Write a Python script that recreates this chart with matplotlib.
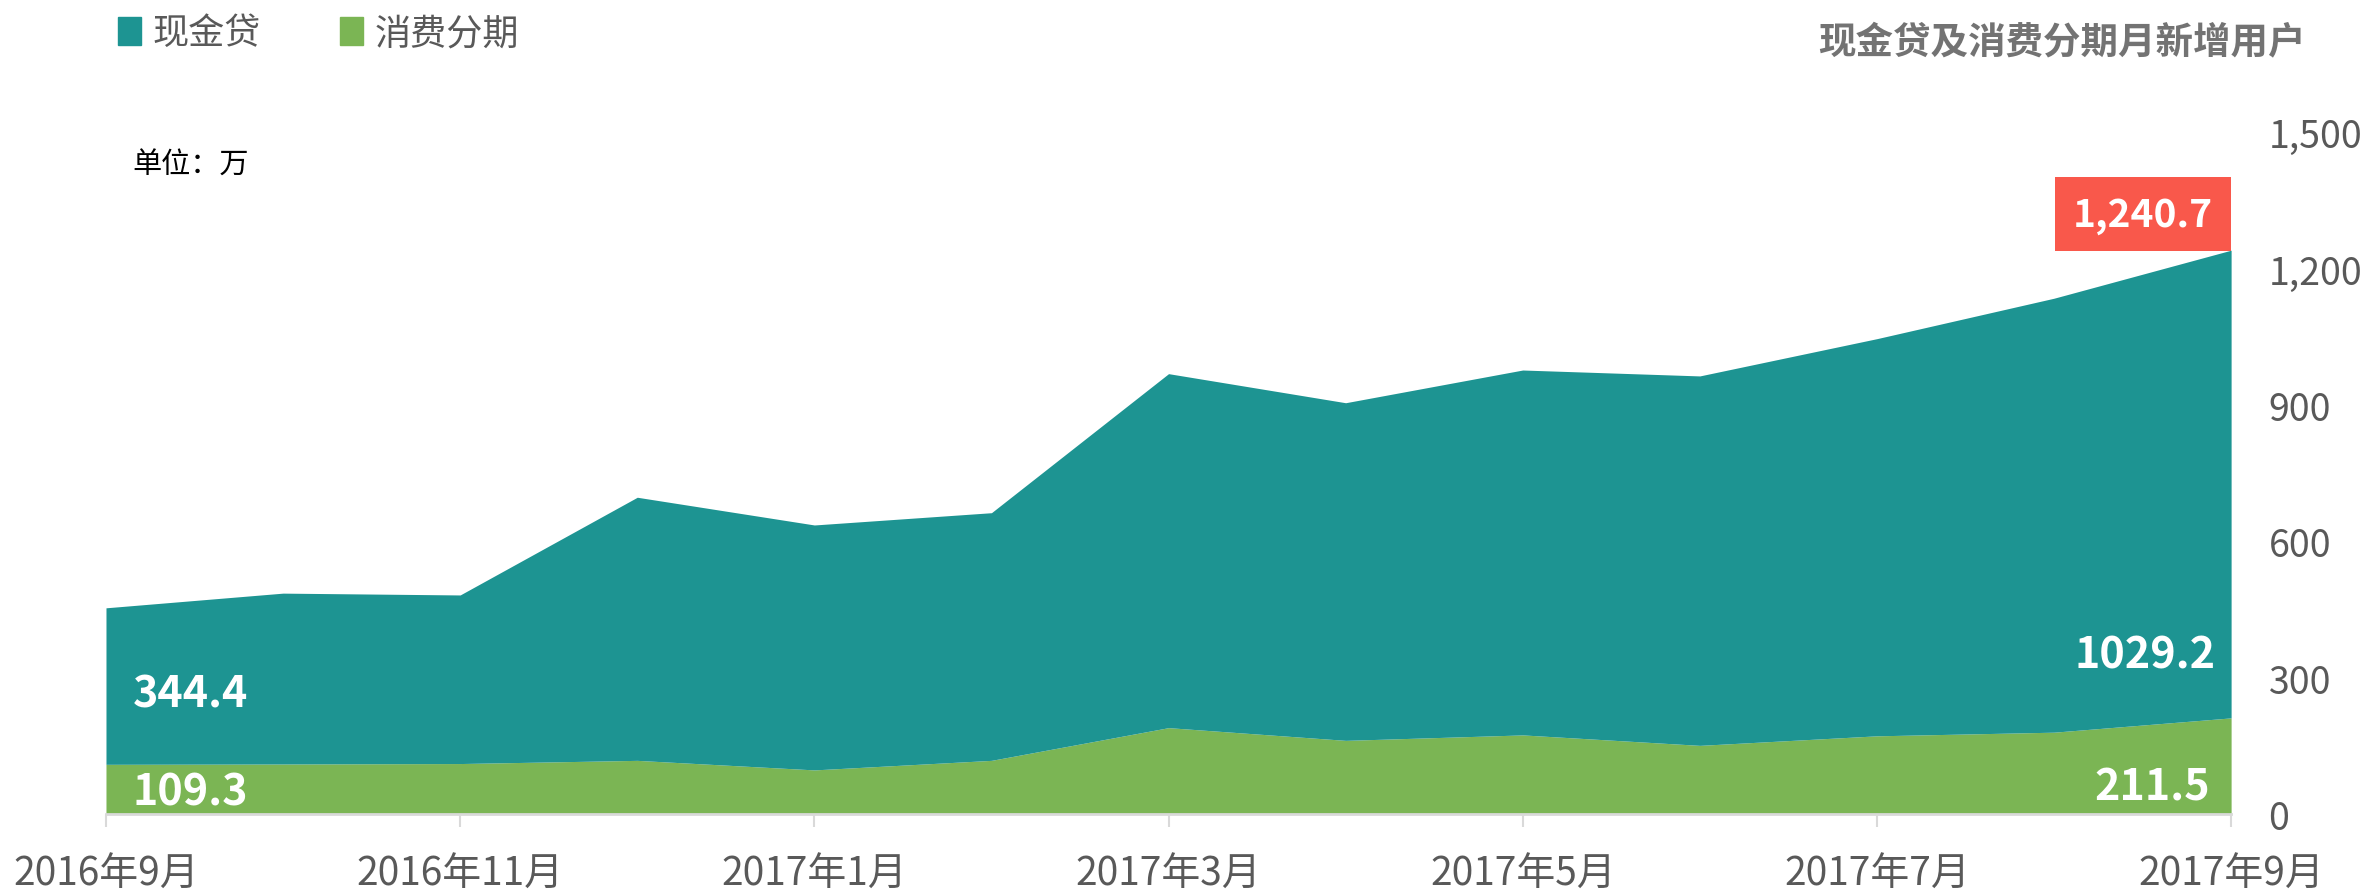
import numpy as np
import matplotlib
matplotlib.use("Agg")
import matplotlib.pyplot as plt
from matplotlib.patches import Patch
from matplotlib.ticker import FuncFormatter

plt.rcParams['font.family'] = ['Noto Sans CJK SC', 'DejaVu Sans']

months = ["2016年9月", "2016年10月", "2016年11月", "2016年12月", "2017年1月",
          "2017年2月", "2017年3月", "2017年4月", "2017年5月", "2017年6月",
          "2017年7月", "2017年8月", "2017年9月"]
consumer = [109.3, 110, 111, 118, 97, 118, 190, 162, 174, 151, 172, 180, 211.5]
cash = [344.4, 376, 371, 579, 539, 545, 779, 743, 803, 813, 874, 955, 1029.2]

teal = "#1D9492"
green = "#7BB554"
red = "#F9584B"
grey = "#595959"

x = np.arange(len(months))
consumer = np.array(consumer)
total = consumer + np.array(cash)

fig = plt.figure(figsize=(23.71, 8.95), dpi=100)
ax = fig.add_axes([0.0447, 0.0894, 0.8963, 0.7616])

ax.fill_between(x, 0, consumer, color=green, linewidth=0)
ax.fill_between(x, consumer, total, color=teal, linewidth=0)

ax.set_xlim(0, len(months) - 1)
ax.set_ylim(0, 1500)

ax.set_xticks(x[::2])
ax.set_xticklabels(months[::2])
ax.set_yticks([0, 300, 600, 900, 1200, 1500])
ax.yaxis.set_major_formatter(FuncFormatter(lambda v, p: f"{int(v):,}"))
ax.yaxis.tick_right()

for s in ["top", "left", "right"]:
    ax.spines[s].set_visible(False)
ax.spines["bottom"].set_color("#d9d9d9")
ax.spines["bottom"].set_linewidth(2)

ax.tick_params(axis="x", length=9, width=1.5, color="#d9d9d9",
               labelsize=28, labelcolor=grey, pad=20)
ax.tick_params(axis="y", length=0, labelsize=27, labelcolor=grey, pad=27)

# value labels
ax.text(0.15, 266, f"{cash[0]}", color="white", fontsize=31, fontweight="bold",
        ha="left", va="center")
ax.text(0.15, 50, f"{consumer[0]}", color="white", fontsize=31, fontweight="bold",
        ha="left", va="center")
ax.text(11.91, 352, f"{cash[-1]}", color="white", fontsize=31, fontweight="bold",
        ha="right", va="center")
ax.text(11.88, 60, f"{consumer[-1]}", color="white", fontsize=31, fontweight="bold",
        ha="right", va="center")

# total callout
ax.annotate(f"{total[-1]:,.1f}", xy=(x[-1], total[-1]), xytext=(-13, 12),
            textcoords="offset points", ha="right", va="bottom",
            color="white", fontsize=28, fontweight="bold",
            bbox=dict(boxstyle="square,pad=0.45", fc=red, ec="none"),
            annotation_clip=False)

handles = [Patch(color=teal, label="现金贷"), Patch(color=green, label="消费分期")]
fig.legend(handles=handles, loc="upper left", bbox_to_anchor=(0.036, 1.018),
           ncol=2, frameon=False, fontsize=26, handlelength=0.65, handleheight=0.8,
           handletextpad=0.3, columnspacing=2.2, labelcolor=grey)

fig.text(0.9726, 0.953, "现金贷及消费分期月新增用户", ha="right", va="center",
         fontsize=27, fontweight="bold", color="#737373")
fig.text(0.056, 0.815, "单位：万", ha="left", va="center", fontsize=21, color="black")

fig.savefig("out.png", dpi=100)
